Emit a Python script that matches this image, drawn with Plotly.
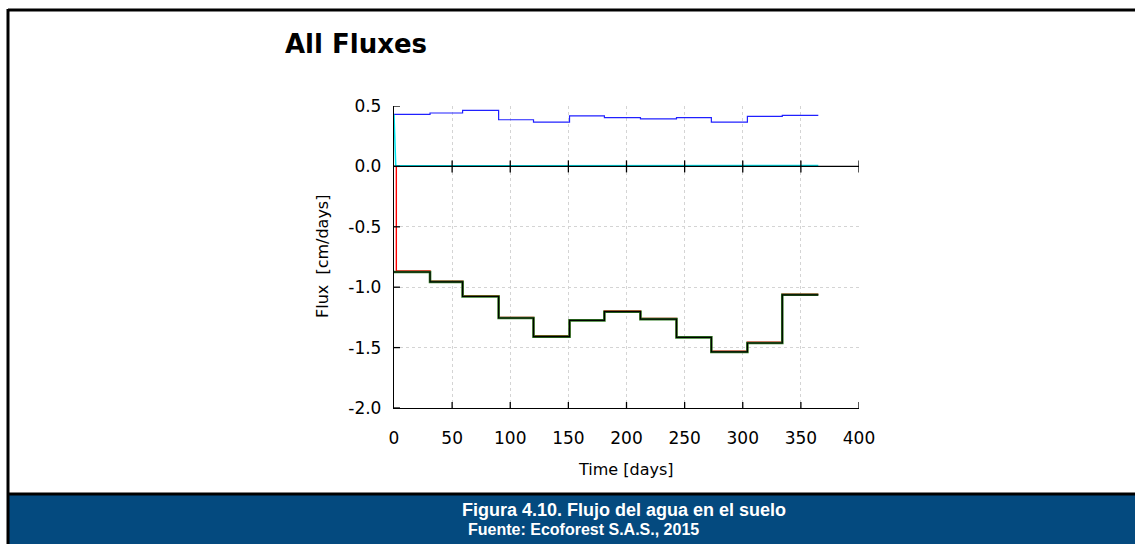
import plotly.graph_objects as go

# ---------------- data ----------------
month_starts = [0, 31, 59, 90, 120, 151, 181, 212, 243, 273, 304, 334, 365]
top_flux = [0.431, 0.442, 0.464, 0.386, 0.367, 0.419, 0.403, 0.394, 0.403, 0.367, 0.414, 0.422]
bottom_flux = [-0.874, -0.956, -1.077, -1.255, -1.409, -1.275, -1.203, -1.264, -1.415, -1.536, -1.462, -1.063]
bottom_flux_b = [-0.866, -0.950, -1.070, -1.250, -1.402, -1.270, -1.197, -1.258, -1.409, -1.530, -1.456, -1.057]
cyan_x = [0, 1.5, 60, 120, 180, 240, 300, 365]
cyan_y = [0.43, 0.008, 0.006, 0.005, 0.005, 0.006, 0.005, 0.007]
red_initial_x = [0, 2.0]
red_initial_y = [0.0]

x_ticks = [0, 50, 100, 150, 200, 250, 300, 350, 400]
y_ticks = [0.5, 0.0, -0.5, -1.0, -1.5, -2.0]
y_tick_text = ["0.5", "0.0", "-0.5", "-1.0", "-1.5", "-2.0"]

W, H = 1135, 544
L, R, T, B = 394, 859, 106, 408  # plot area in pixels


def px(xp):
    return (xp - L) / (R - L)


def py(yp):
    return (B - yp) / (B - T)


def steps(vals):
    return vals + [vals[-1]]


FONT = "DejaVu Sans, Arial, sans-serif"
CAPFONT = "Arial, Liberation Sans, sans-serif"

fig = go.Figure()

# red series
fig.add_trace(go.Scatter(x=red_initial_x + month_starts[1:],
                         y=red_initial_y + steps(bottom_flux_b),
                         mode="lines", line=dict(color="#ff0000", width=1.4, shape="hv"),
                         showlegend=False, hoverinfo="skip"))
# green
fig.add_trace(go.Scatter(x=month_starts, y=steps(bottom_flux), mode="lines",
                         line=dict(color="#2f7a22", width=2.6, shape="hv"),
                         showlegend=False, hoverinfo="skip"))
# black
fig.add_trace(go.Scatter(x=month_starts, y=steps(bottom_flux), mode="lines",
                         line=dict(color="#000000", width=1.2, shape="hv"),
                         showlegend=False, hoverinfo="skip"))
# blue
fig.add_trace(go.Scatter(x=month_starts, y=steps(top_flux), mode="lines",
                         line=dict(color="#2020ff", width=1.2, shape="hv"),
                         showlegend=False, hoverinfo="skip"))
# cyan
fig.add_trace(go.Scatter(x=cyan_x, y=cyan_y, mode="lines",
                         line=dict(color="#00e5ee", width=1.5),
                         showlegend=False, hoverinfo="skip"))

shapes = []
# cross ticks on y axis
for v in y_ticks:
    shapes.append(dict(type="line", xref="x", yref="y", xsizemode="pixel", xanchor=0,
                       x0=-6, x1=6, y0=v, y1=v, line=dict(color="black", width=1.3)))
# cross ticks on x at y=0 and y=-2
for base in (0.0, -2.0):
    for v in x_ticks[1:]:
        shapes.append(dict(type="line", xref="x", yref="y", ysizemode="pixel", yanchor=base,
                           y0=-6, y1=6, x0=v, x1=v, line=dict(color="black", width=1.3)))
# zero line
shapes.append(dict(type="line", xref="x", yref="y", x0=0, x1=400, y0=0, y1=0,
                   line=dict(color="black", width=1.3)))
# outer frame and caption band
shapes.append(dict(type="rect", xref="paper", yref="paper", x0=px(9), x1=px(1135),
                   y0=py(544), y1=py(495), fillcolor="#044a7f", line=dict(width=0), layer="below"))
shapes.append(dict(type="line", xref="paper", yref="paper", x0=px(8), x1=px(1135),
                   y0=py(494), y1=py(494), line=dict(color="black", width=3)))
shapes.append(dict(type="line", xref="paper", yref="paper", x0=px(8), x1=px(1135),
                   y0=py(10), y1=py(10), line=dict(color="black", width=3)))
shapes.append(dict(type="line", xref="paper", yref="paper", x0=px(8), x1=px(8),
                   y0=py(9), y1=py(544), line=dict(color="black", width=3)))

annotations = [
    dict(text="<b>All Fluxes</b>", xref="paper", yref="paper", x=px(283), y=py(44),
         xanchor="left", yanchor="middle", showarrow=False,
         font=dict(family=FONT, size=26, color="black")),
    dict(text="Flux  [cm/days]", xref="paper", yref="paper", x=px(322), y=py(257),
         xanchor="center", yanchor="middle", showarrow=False, textangle=-90,
         font=dict(family=FONT, size=16, color="black")),
    dict(text="Time [days]", xref="paper", yref="paper", x=px(626), y=py(469),
         xanchor="center", yanchor="middle", showarrow=False,
         font=dict(family=FONT, size=16, color="black")),
    dict(text="<b>Figura 4.10. Flujo del agua en el suelo</b>", xref="paper", yref="paper",
         x=px(624), y=py(510), xanchor="center", yanchor="middle", showarrow=False,
         font=dict(family=CAPFONT, size=18, color="white")),
    dict(text="<b>Fuente: Ecoforest S.A.S., 2015</b>", xref="paper", yref="paper",
         x=px(583), y=py(529), xanchor="center", yanchor="middle", showarrow=False,
         font=dict(family=CAPFONT, size=16, color="white")),
]

fig.update_layout(
    width=W, height=H,
    margin=dict(l=L, r=W - R, t=T, b=H - B, pad=0),
    paper_bgcolor="white", plot_bgcolor="white",
    shapes=shapes, annotations=annotations,
    xaxis=dict(range=[0, 400], tickvals=x_ticks, ticks="", showline=True,
               linecolor="black", linewidth=1.3, showgrid=True, gridcolor="#d4d4d4",
               griddash="dot", gridwidth=1, zeroline=False, ticklabelstandoff=14,
               tickfont=dict(family=FONT, size=17, color="black"), mirror=False),
    yaxis=dict(range=[-2.0, 0.5], tickvals=y_ticks, ticktext=y_tick_text, ticks="",
               showline=True, linecolor="black", linewidth=1.3, showgrid=True,
               gridcolor="#d4d4d4", griddash="dot", gridwidth=1, zeroline=False,
               ticklabelstandoff=8, tickfont=dict(family=FONT, size=17, color="black")),
)

fig.write_html("out.html")
